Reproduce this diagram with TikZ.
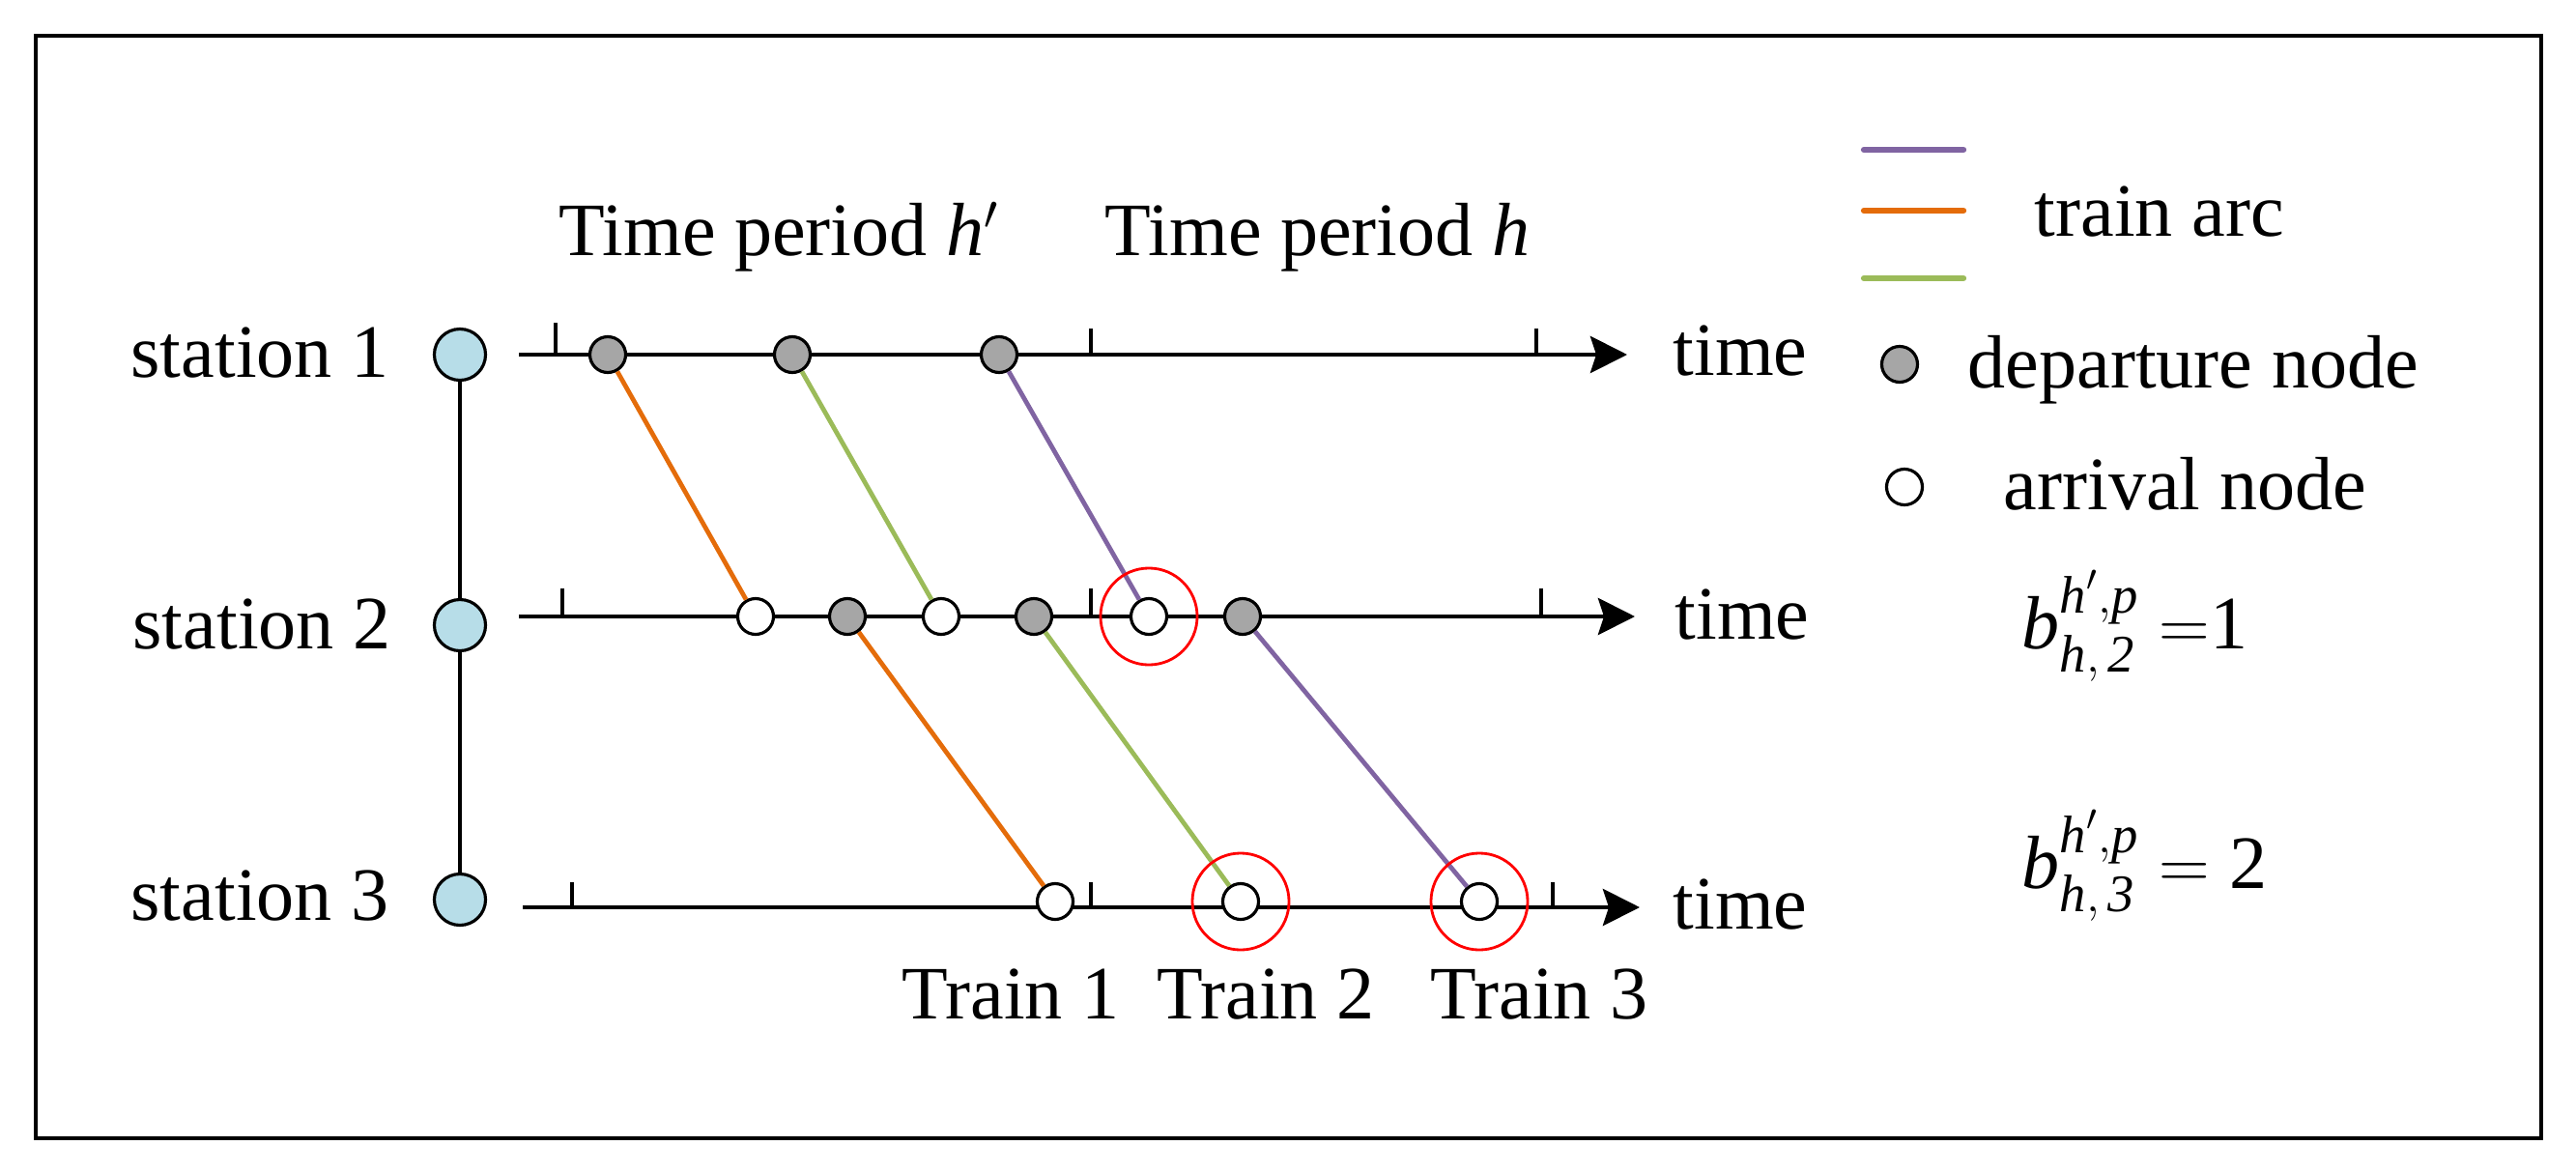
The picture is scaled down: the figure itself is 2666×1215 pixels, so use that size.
\documentclass[tikz,border=0pt]{standalone}
\usepackage{fontspec}
\usepackage{amsmath}
\setmainfont{Liberation Serif}
\usetikzlibrary{arrows.meta}
\definecolor{stfill}{HTML}{B7DDE8}
\definecolor{depfill}{HTML}{A6A6A6}
\definecolor{cpurple}{HTML}{8064A2}
\definecolor{corange}{HTML}{E46C0A}
\definecolor{cgreen}{HTML}{9BBB59}
\tikzset{
  lbl/.style={inner sep=0pt, font=\fontsize{22.2pt}{26pt}\selectfont},
  station/.style={circle, draw, line width=0.9pt, fill=stfill, minimum size=0.53cm, inner sep=0pt},
  depn/.style={circle, draw, line width=0.9pt, fill=depfill, minimum size=0.37cm, inner sep=0pt},
  arrn/.style={circle, draw, line width=0.9pt, fill=white, minimum size=0.37cm, inner sep=0pt},
  ring/.style={circle, draw=red, line width=0.8pt, minimum size=1.0cm, inner sep=0pt},
  taxis/.style={line width=1.3pt, -{Stealth[length=3.8mm,width=3.8mm,inset=0.6mm]}},
  tickmark/.style={line width=1.1pt},
  trainarc/.style={line width=1.35pt},
  legline/.style={line width=1.8pt, line cap=round},
}
\begin{document}
\begin{tikzpicture}[x=0.01cm, y=-0.01cm]
\useasboundingbox (0,0) rectangle (2666,1215);
\draw[line width=0.9pt] (37,37) rectangle (2630,1178);

% axes
\coordinate (a1s) at (537,367); \coordinate (a1e) at (1684,367);
\coordinate (a2s) at (537,638); \coordinate (a2e) at (1692,638);
\coordinate (a3s) at (541,939); \coordinate (a3e) at (1697,939);
\draw[taxis] (a1s) -- (a1e);
\draw[taxis] (a2s) -- (a2e);
\draw[taxis] (a3s) -- (a3e);

% ticks
\draw[tickmark] (575,367) -- (575,334);
\draw[tickmark] (1129,367) -- (1129,340);
\draw[tickmark] (1590,367) -- (1590,340);
\draw[tickmark] (582,638) -- (582,609);
\draw[tickmark] (1129,638) -- (1129,609);
\draw[tickmark] (1595,638) -- (1595,609);
\draw[tickmark] (592,939) -- (592,913);
\draw[tickmark] (1129,939) -- (1129,913);
\draw[tickmark] (1607,939) -- (1607,913);

% stations
\node[station] (s1) at (476,367) {};
\node[station] (s2) at (476,647) {};
\node[station] (s3) at (476,931) {};
\draw[line width=0.9pt] (s1) -- (s2) -- (s3);

\node[lbl, anchor=base east] (l1) at (403,390) {station 1};
\node[lbl, anchor=base east] (l2) at (405,671) {station 2};
\node[lbl, anchor=base east] (l3) at (403,952) {station 3};

% time labels
\node[lbl, anchor=base west] (t1) at (1731,388) {time};
\node[lbl, anchor=base west] (t2) at (1733,661) {time};
\node[lbl, anchor=base west] (t3) at (1731,961) {time};

% period titles
\node[lbl, anchor=base west] (p1) at (578,264) {Time period \textit{h}$'$};
\node[lbl, anchor=base west] (p2) at (1143,264) {Time period \textit{h}};

% nodes on axis 1
\node[depn] (d11) at (629,367) {};
\node[depn] (d12) at (820,367) {};
\node[depn] (d13) at (1034,367) {};
% nodes on axis 2
\node[arrn] (a21) at (782,638) {};
\node[depn] (d21) at (877,638) {};
\node[arrn] (a22) at (974,638) {};
\node[depn] (d22) at (1070,638) {};
\node[arrn] (a23) at (1189,638) {};
\node[depn] (d23) at (1286,638) {};
% nodes on axis 3
\node[arrn] (a31) at (1092,933) {};
\node[arrn] (a32) at (1284,933) {};
\node[arrn] (a33) at (1531,933) {};

% train arcs
\draw[trainarc, corange] (d11) -- (a21);
\draw[trainarc, corange] (d21) -- (a31);
\draw[trainarc, cgreen] (d12) -- (a22);
\draw[trainarc, cgreen] (d22) -- (a32);
\draw[trainarc, cpurple] (d13) -- (a23);
\draw[trainarc, cpurple] (d23) -- (a33);

% red rings
\node[ring] (r1) at (a23) {};
\node[ring] (r2) at (a32) {};
\node[ring] (r3) at (a33) {};

% train labels
\node[lbl, anchor=base] (tr1) at (1046,1054) {Train 1};
\node[lbl, anchor=base] (tr2) at (1310,1054) {Train 2};
\node[lbl, anchor=base] (tr3) at (1593,1054) {Train 3};

% legend
\draw[legline, cpurple] (1929,155) -- (2032,155);
\draw[legline, corange] (1929,218) -- (2032,218);
\draw[legline, cgreen] (1929,288) -- (2032,288);
\node[lbl, anchor=base west] (lg1) at (2105,244) {train arc};
\node[depn] (lgd) at (1966,377) {};
\node[lbl, anchor=base west] (lg2) at (2036,401) {departure node};
\node[arrn] (lga) at (1971,504) {};
\node[lbl, anchor=base west] (lg3) at (2073,527) {arrival node};

\node[lbl, anchor=base west] (f1) at (2092,671)
  {$\textit{b}^{\textit{h}',\textit{p}}_{\textit{h},\,\textit{2}}\;{=}\textrm{1}$};
\node[lbl, anchor=base west] (f2) at (2092,919)
  {$\textit{b}^{\textit{h}',\textit{p}}_{\textit{h},\,\textit{3}}\;{=}\;\textrm{2}$};
\end{tikzpicture}
\end{document}
